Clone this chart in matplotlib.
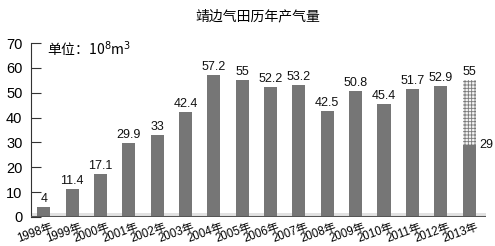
import matplotlib
matplotlib.use("Agg")
import matplotlib.pyplot as plt
import matplotlib.transforms as mtransforms

plt.rcParams['font.family'] = ['Liberation Sans', 'Noto Sans CJK SC', 'DejaVu Sans']
plt.rcParams['hatch.color'] = '#7a7a7a'
plt.rcParams['hatch.linewidth'] = 0.6

years = ["1998年", "1999年", "2000年", "2001年", "2002年", "2003年", "2004年", "2005年",
         "2006年", "2007年", "2008年", "2009年", "2010年", "2011年", "2012年", "2013年"]
output = [4, 11.4, 17.1, 29.9, 33, 42.4, 57.2, 55, 52.2, 53.2, 42.5, 50.8, 45.4, 51.7, 52.9, 29]
plan_2013 = 55
yticks = [0, 10, 20, 30, 40, 50, 60, 70]

bar_color = '#767676'

fig = plt.figure(figsize=(4.95, 2.46), dpi=100)
ax = fig.add_axes([0.062, 0.118, 0.92, 0.707])

x = list(range(len(years)))
# hatched planned part of 2013 sits behind the actual value
ax.bar(x[-1], plan_2013, width=0.46, color='#f4f4f4', hatch='+++++', linewidth=0, zorder=2)
ax.bar(x, output, width=0.46, color=bar_color, zorder=3)

for i, v in enumerate(output[:-1]):
    ax.text(i, v + 0.8, f"{v:g}", ha='center', va='bottom', fontsize=9, color='#111111')
ax.text(x[-1], plan_2013 + 0.8, f"{plan_2013:g}", ha='center', va='bottom', fontsize=9, color='#111111')
ax.text(x[-1] + 0.35, output[-1], f"{output[-1]:g}", ha='left', va='center', fontsize=9, color='#111111')

# floor shading
ax.axhspan(0, 1.4, color='#e2e2e2', zorder=1, lw=0)
ax.axhline(0, color='#555555', lw=2.2, zorder=4)

ax.set_xlim(-0.46, 15.6)
ax.set_ylim(0, 70)
ax.set_yticks(yticks)
ax.tick_params(axis='y', direction='in', length=7, width=0.8, color='#333333',
               labelsize=10.5, pad=6)
ax.set_xticks(x)
ax.set_xticklabels(years, rotation=20, ha='right', rotation_mode='anchor', fontsize=8.3)
ax.tick_params(axis='x', length=0, pad=3)
offset = mtransforms.ScaledTranslation(5 / 72, 0, fig.dpi_scale_trans)
for lbl in ax.get_xticklabels():
    lbl.set_transform(lbl.get_transform() + offset)
    lbl.set_family(['Liberation Sans', 'Noto Sans CJK SC'])

for s in ['top', 'right', 'bottom']:
    ax.spines[s].set_visible(False)
ax.spines['left'].set_color('#333333')
ax.spines['left'].set_linewidth(0.8)

ax.text(0.1, 67.5, "单位：10$^8$m$^3$", fontsize=10, va='center', ha='left',
        family=['Noto Sans CJK SC', 'DejaVu Sans'])

fig.text(0.52, 0.935, "靖边气田历年产气量", ha='center', va='center', fontsize=10,
         family=['Noto Sans CJK SC', 'DejaVu Sans'])

fig.savefig("out.png", dpi=100)
